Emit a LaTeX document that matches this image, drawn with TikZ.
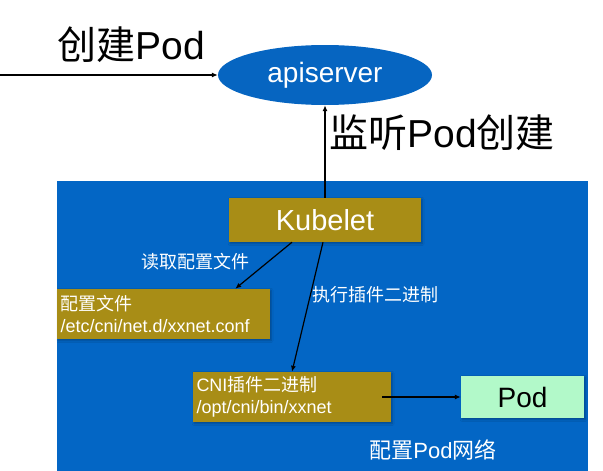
\documentclass[tikz,border=0pt]{standalone}
\usepackage{fontspec}
\setmainfont{Liberation Sans}
\newfontfamily\cjk{Noto Sans CJK SC}
\usetikzlibrary{
    arrows.meta,
    shapes.geometric,
    shadows.blur
}
\definecolor{netblue}{RGB}{3,102,197}
\definecolor{apiblue}{RGB}{6,101,193}
\definecolor{olive}{RGB}{168,141,22}
\definecolor{podgreen}{RGB}{178,249,201}
\newcommand{\setfs}[2]{\fontsize{#1}{#2}\selectfont}
\tikzset{
    pop/.style={
        blur shadow={shadow xshift=1.2pt, shadow yshift=-1.5pt,
            shadow blur radius=2pt, shadow opacity=30}
    },
    api node/.style={
        ellipse,
        fill=apiblue,
        text=white,
        inner sep=0pt,
        minimum width=214pt,
        minimum height=60pt,
        font=\setfs{28}{34}
    },
    olivebox/.style={
        rectangle,
        fill=olive,
        text=white,
        inner sep=0pt,
        pop
    },
    kubebox/.style={
        olivebox,
        minimum width=192pt,
        minimum height=44pt,
        font=\setfs{29}{35}
    },
    filebox/.style={
        olivebox,
        inner xsep=3.5pt,
        minimum height=50pt,
        align=left,
        font=\setfs{18}{21.5}
    },
    podbox/.style={
        rectangle,
        fill=podgreen,
        inner sep=0pt,
        minimum width=123pt,
        minimum height=42pt,
        font=\setfs{28}{34},
        pop
    },
    flow/.style={
        -{Latex[length=6pt,width=5pt]},
        draw=black,
        line width=1.2pt
    },
    steplabel/.style={
        text=white,
        font=\setfs{18}{22}
    },
    bigtitle/.style={
        font=\setfs{39}{46}
    }
}

\begin{document}
\begin{tikzpicture}[x=1pt, y=-1pt]
\useasboundingbox (0,0) rectangle (603,471);

% node network area
\fill[netblue] (57,181) rectangle (588,471);

\node[bigtitle, anchor=west] (create) at (54,45) {{\cjk 创建}Pod};
\node[api node] (api) at (325,75) {apiserver};
\coordinate (entry) at (0,75);
\node[bigtitle, anchor=west] (watch) at (326,133) {{\cjk 监听}Pod{\cjk 创建}};

\node[kubebox] (kubelet) at (325,220) {Kubelet};
\node[filebox, text width=206pt] (conf) at (163.5,314)
    {{\cjk 配置文件}\\/etc/cni/net.d/xxnet.conf};
\node[filebox, text width=191pt] (cni) at (292,397)
    {CNI{\cjk 插件二进制}\\/opt/cni/bin/xxnet};
\node[podbox] (pod) at (522.5,397) {Pod};

\node[steplabel] (readlbl) at (195,262) {\cjk 读取配置文件};
\node[steplabel] (execlbl) at (375,295) {\cjk 执行插件二进制};
\node[steplabel, font=\setfs{22}{26}] (netlbl) at (433,450) {{\cjk 配置}Pod{\cjk 网络}};

\draw[flow] (entry) -- (api.west);
\draw[flow] (kubelet.north) -- (api.south);
\draw[flow] ([xshift=-33]kubelet.south) -- ([xshift=-35]conf.north east);
\draw[flow] ([xshift=-2]kubelet.south) -- (cni.north);
\draw[flow] ([xshift=-9]cni.east) -- (pod.west);

\end{tikzpicture}
\end{document}
